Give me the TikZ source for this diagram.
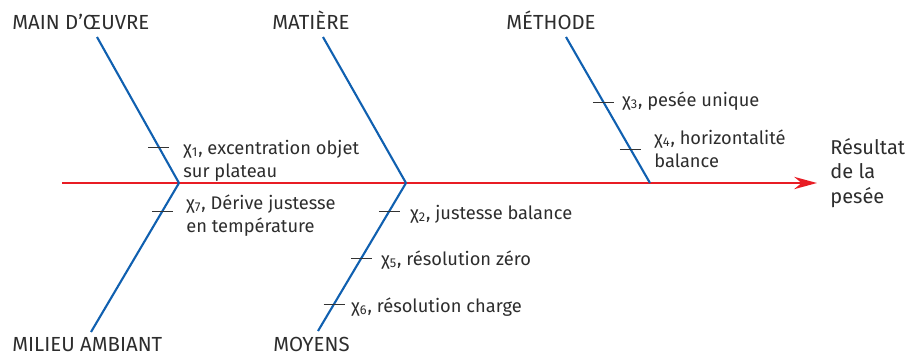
\documentclass[tikz,border=0pt]{standalone}
\usepackage{fontspec}
\setmainfont{Fira Sans}
\usetikzlibrary{arrows.meta, positioning}
\definecolor{fishblue}{RGB}{16,96,176}
\definecolor{fishred}{RGB}{232,28,36}
\definecolor{txtgray}{RGB}{45,45,45}
\newcommand{\fact}[1]{χ\textsubscript{#1}}
\tikzset{
  spine/.style={draw=fishred, line width=1.3pt, -{Stealth[length=13pt, width=7pt]}},
  branch/.style={draw=fishblue, line width=1.2pt},
  causemark/.style={draw=black!80, line width=0.5pt},
  cat/.style={anchor=base west, inner sep=0pt, text=txtgray, font=\fontsize{11.6}{14}\selectfont},
  cause/.style={anchor=base west, inner sep=0pt, align=left, text=txtgray, font=\fontsize{10.4}{13}\selectfont},
  result/.style={anchor=base west, inner sep=0pt, align=left, text=txtgray, font=\fontsize{11.4}{13.8}\selectfont}
}

\begin{document}
\begin{tikzpicture}[x=0.02cm, y=-0.02cm]
    \useasboundingbox (0,0) rectangle (921,356);
    % spine and joints
    \coordinate (tail) at (62,183);
    \coordinate (head) at (817,183);
    \coordinate (j1) at (179,183);
    \coordinate (j2) at (406,183);
    \coordinate (j3) at (650,183);
    % free ends of the bones
    \coordinate (mo) at (97,37);
    \coordinate (ma) at (323,37);
    \coordinate (me) at (566,37);
    \coordinate (mi) at (91,332);
    \coordinate (my) at (318,331);
    \draw[spine] (tail) -- (head);
    \draw[branch] (mo) -- (j1) coordinate[pos=0.753] (t1);
    \draw[branch] (ma) -- (j2);
    \draw[branch] (me) -- (j3) coordinate[pos=0.445] (t3) coordinate[pos=0.767] (t4);
    \draw[branch] (j1) -- (mi) coordinate[pos=0.188] (t7);
    \draw[branch] (j2) -- (my) coordinate[pos=0.189] (t2) coordinate[pos=0.507] (t5) coordinate[pos=0.818] (t6);
    % small marks on the bones
    \foreach \t in {t1,t2,t3,t4,t5,t6,t7}
      \draw[causemark] (\t) ++(-10.5,0) -- ++(21,0);
    % categories
    \node[cat] (lmo) at (12,29) {MAIN D’ŒUVRE};
    \node[cat] (lma) at (272,29) {MATIÈRE};
    \node[cat] (lme) at (506,29) {MÉTHODE};
    \node[cat] (lmi) at (12,351) {MILIEU AMBIANT};
    \node[cat] (lmy) at (273,351) {MOYENS};
    % causes (base = last line)
    \node[cause] (c1) at (183,177) {\fact{1}, excentration objet\\sur plateau};
    \node[cause] (c3) at (622,106) {\fact{3}, pesée unique};
    \node[cause] (c4) at (654,167) {\fact{4}, horizontalité\\balance};
    \node[cause] (c7) at (186,232) {\fact{7}, Dérive justesse\\en température};
    \node[cause] (c2) at (410,219) {\fact{2}, justesse balance};
    \node[cause] (c5) at (381,265) {\fact{5}, résolution zéro};
    \node[cause] (c6) at (351,312) {\fact{6}, résolution charge};
    \node[result] (res) at (830,203) {Résultat\\de la\\pesée};
  \end{tikzpicture}
\end{document}
